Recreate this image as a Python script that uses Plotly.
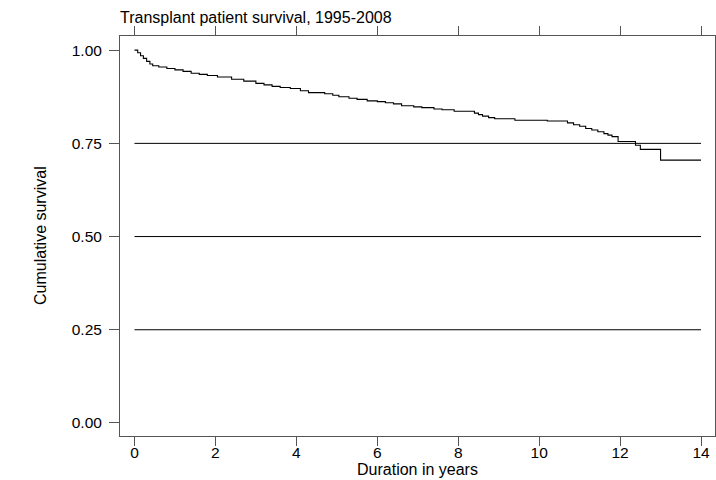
import plotly.graph_objects as go

# Kaplan-Meier estimate (years, survival)
times = [0, 0.08, 0.15, 0.22, 0.3, 0.38, 0.45, 0.6, 0.8, 1.0, 1.2, 1.4, 1.6, 1.8,
         2.05, 2.4, 2.7, 3.0, 3.2, 3.4, 3.6, 3.85, 4.1, 4.3, 4.7, 4.9, 5.05, 5.3,
         5.5, 5.75, 6.0, 6.2, 6.4, 6.6, 6.9, 7.1, 7.4, 7.6, 7.9, 8.4, 8.5, 8.6,
         8.75, 8.9, 9.4, 10.2, 10.7, 10.85, 11.0, 11.15, 11.3, 11.45, 11.6, 11.7,
         11.8, 11.95, 12.38, 12.5, 13.0, 14.0]
survival = [1.000, 0.993, 0.985, 0.978, 0.970, 0.963, 0.958, 0.955, 0.951, 0.947,
            0.943, 0.938, 0.935, 0.932, 0.928, 0.922, 0.917, 0.911, 0.907, 0.903,
            0.900, 0.897, 0.891, 0.886, 0.883, 0.879, 0.875, 0.871, 0.868, 0.864,
            0.862, 0.859, 0.856, 0.851, 0.848, 0.846, 0.842, 0.840, 0.836, 0.831,
            0.827, 0.823, 0.819, 0.816, 0.812, 0.810, 0.805, 0.800, 0.796, 0.790,
            0.786, 0.781, 0.776, 0.772, 0.768, 0.755, 0.745, 0.734, 0.705, 0.705]

x_ticks = [0, 2, 4, 6, 8, 10, 12, 14]
y_ticks = [0, 0.25, 0.5, 0.75, 1.0]
y_labels = ['0.00', '0.25', '0.50', '0.75', '1.00']
grid_y = [0.25, 0.5, 0.75]

font = dict(family='Arial, Liberation Sans, sans-serif', size=16, color='black')
tick_font = dict(family='Arial, Liberation Sans, sans-serif', size=15.5, color='black')
axis_col = '#555555'

data = [
    go.Scatter(x=times,
               y=survival,
               mode='lines',
               line=dict(color='black', width=1.1, shape='hv'),
               showlegend=False,
               hoverinfo='x+y')
]

fig = go.Figure(data)

# stata style grid lines only across the data range
for g in grid_y:
    fig.add_shape(type='line', xref='x', yref='y',
                  x0=x_ticks[0], x1=x_ticks[-1], y0=g, y1=g,
                  line=dict(color='black', width=1))

fig.update_layout(
    width=716, height=480,
    autosize=False,
    paper_bgcolor='white',
    plot_bgcolor='white',
    font=font,
    margin=dict(l=120, r=1, t=36, b=44),
    title=dict(text='Transplant patient survival, 1995-2008',
               xref='paper', x=0, xanchor='left',
               yref='container', y=1 - 17 / 480, yanchor='middle',
               font=font),
    xaxis=dict(range=[-0.358, 14.345],
               tickvals=x_ticks,
               ticks='outside', ticklen=9, tickcolor=axis_col,
               ticklabelstandoff=-7,
               showline=True, linecolor=axis_col, linewidth=1,
               mirror='ticks', showgrid=False, zeroline=False,
               automargin=False,
               tickfont=tick_font),
    yaxis=dict(range=[-0.035, 1.038],
               tickvals=y_ticks, ticktext=y_labels,
               ticks='outside', ticklen=10, tickcolor=axis_col,
               ticklabelstandoff=4,
               showline=True, linecolor=axis_col, linewidth=1,
               mirror='ticks', showgrid=False, zeroline=False,
               automargin=False,
               tickfont=tick_font),
    annotations=[
        dict(text='Duration in years', xref='paper', yref='paper',
             x=0.5, y=0, xanchor='center', yanchor='middle',
             yshift=-33, showarrow=False, font=font),
        dict(text='Cumulative survival', xref='paper', yref='paper',
             x=0, y=0.5, xanchor='center', yanchor='middle',
             xshift=-80, textangle=-90, showarrow=False, font=font),
    ],
)

# page body has a default margin, drop it so the figure sits at the corner
fig.write_html("out.html",
               config={'displayModeBar': False},
               post_script="document.body.style.margin='0px';"
                           "document.body.style.overflow='hidden';"
                           "window.dispatchEvent(new Event('resize'));")
